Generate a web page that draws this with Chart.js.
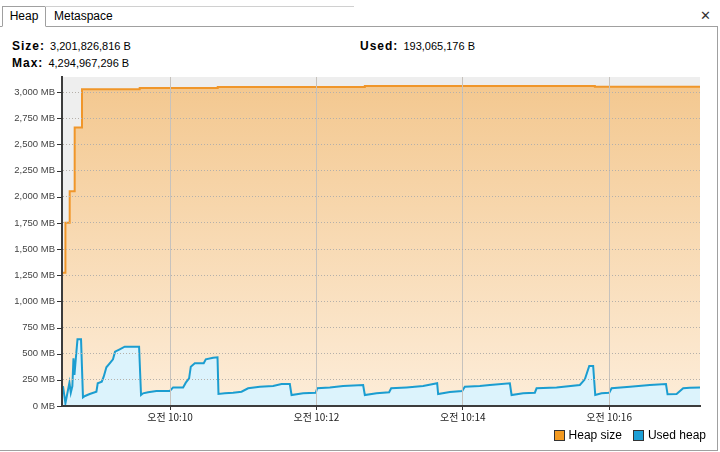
<!DOCTYPE html>
<html>
<head>
<meta charset="utf-8">
<script src="https://cdn.jsdelivr.net/npm/chart.js@4/dist/chart.umd.min.js"></script>
<style>
  body { margin: 0; width: 720px; height: 452px; background: #fff; font-family: "Liberation Sans", Arial, sans-serif; position: relative; overflow: hidden; }
  .tabs { position: absolute; left: 0; top: 6px; width: 718px; height: 20px; border-bottom: 1px solid #a0a0a0; }
  .tab { position: absolute; top: 0; height: 19px; line-height: 19px; font-size: 12px; color: #000; }
  .tab.sel { left: 2px; width: 42px; border: 1px solid #a0a0a0; border-bottom: 1px solid #fff; background: #fff; text-align: center; }
  .tab.other { left: 45px; width: 300px; padding-left: 9px; border-top: 1px solid #d0d0d0; }
  .close { position: absolute; right: 7px; top: 0; font-size: 13px; line-height: 19px; color: #333; }
  .panel { position: absolute; left: 0; top: 26px; width: 717px; height: 424px; border-right: 1px solid #a0a0a0; border-bottom: 1px solid #a0a0a0; }
  .info { position: absolute; font-size: 11px; color: #000; }
  .info b { font-size: 12px; letter-spacing: 1px; margin-right: 2px; }
  #wrap { position: absolute; left: 0; top: 70px; width: 716px; height: 360px; }
  .legend { position: absolute; top: 428px; right: 14px; font-size: 12px; color: #000; display: flex; align-items: center; }
  .legend span.box { display: inline-block; width: 9px; height: 9px; border: 1px solid #333; margin-right: 4px; }
  .legend span.lbl { margin-right: 11px; }
</style>
</head>
<body>
<div class="tabs">
  <div class="tab sel">Heap</div>
  <div class="tab other">Metaspace</div>
  <div class="close">✕</div>
</div>
<div class="panel"></div>
<div class="info" style="left:12px; top:39px;"><b>Size:</b> 3,201,826,816 B</div>
<div class="info" style="left:12px; top:56px;"><b>Max:</b> 4,294,967,296 B</div>
<div class="info" style="left:360px; top:39px;"><b>Used:</b> 193,065,176 B</div>
<div id="wrap"><canvas id="heapChart"></canvas></div>
<div class="legend">
  <span class="box" style="background:#f39a21"></span><span class="lbl">Heap size</span>
  <span class="box" style="background:#1c9fd6"></span><span class="lbl" style="margin-right:0">Used heap</span>
</div>

<script>
// time = seconds after 10:00:00, values in MB
const heapTimes = [511.4, 514.2, 517.7, 521.8, 527.8, 575.1, 639.1, 759.7, 948.3, 1034.5]
const heapValues = [1274, 1751, 2054, 2663, 3028, 3040, 3050, 3058, 3052, 3052]

const usedTimes = [
  512.2, 514.2, 517.5, 518.6, 519.9, 520.8, 521.6, 522.7, 524.1, 527.0,
  528.6, 530.3, 534.1, 539.6, 540.7, 544.0, 545.6, 547.8, 550.5, 553.2,
  554.9, 558.7, 562.8, 574.6, 576.2, 577.9, 582.0, 588.8, 599.8, 602.5,
  610.7, 612.9, 615.6, 617.0, 620.3, 627.6, 629.3, 635.3, 638.9, 639.7,
  644.9, 651.7, 658.6, 664.0, 673.6, 684.5, 691.4, 698.2, 699.6, 709.1,
  719.5, 720.6, 731.0, 741.9, 758.3, 759.7, 769.3, 779.6, 781.3, 793.9,
  807.5, 819.0, 819.8, 829.4, 839.5, 841.7, 854.0, 862.2, 878.6, 880.0,
  889.5, 899.1, 900.5, 916.9, 936.0, 940.1, 943.7, 946.9, 948.6, 953.8,
  960.1, 962.0, 977.1, 993.4, 1006.6, 1007.9, 1015.3, 1020.7, 1026.2, 1034.5
]
const usedValues = [
  191, 26, 223, 127, 191, 456, 296, 449, 637, 637,
  83, 96, 115, 137, 217, 232, 280, 370, 408, 446,
  519, 542, 567, 567, 105, 121, 131, 143, 143, 178,
  178, 223, 264, 376, 408, 408, 446, 462, 465, 115,
  121, 127, 137, 169, 184, 191, 210, 210, 105, 121,
  127, 169, 178, 191, 201, 105, 121, 131, 169, 178,
  191, 217, 115, 134, 143, 184, 191, 201, 217, 105,
  121, 127, 169, 178, 201, 255, 382, 382, 105, 121,
  127, 169, 184, 201, 210, 112, 115, 169, 175, 178
]

const xTickValues = [600, 720, 840, 960]
const xTickLabels = ['오전 10:10', '오전 10:12', '오전 10:14', '오전 10:16']
const yTickValues = [0, 250, 500, 750, 1000, 1250, 1500, 1750, 2000, 2250, 2500, 2750, 3000]

const toPoints = (xs, ys) => xs.map((x, i) => ({ x: x, y: ys[i] }))

// grey plot background + little tick marks on the y axis
const plotBg = {
    id: 'plotBg',
    beforeDraw(chart) {
        const { ctx, chartArea: a } = chart
        ctx.save()
        ctx.fillStyle = '#eeeeee'
        ctx.fillRect(a.left, a.top, a.right - a.left, a.bottom - a.top)
        ctx.restore()
    },
    afterDraw(chart) {
        const { ctx } = chart
        const y = chart.scales.y
        ctx.save()
        ctx.strokeStyle = '#333'
        ctx.lineWidth = 1
        yTickValues.forEach(v => {
            const py = Math.round(y.getPixelForValue(v)) + 0.5
            ctx.beginPath()
            ctx.moveTo(y.right - 5, py)
            ctx.lineTo(y.right, py)
            ctx.stroke()
        })
        ctx.restore()
    }
}

function orangeFill(context) {
    const { ctx, chartArea } = context.chart
    if (!chartArea) return 'rgba(245,200,145,1)'
    const g = ctx.createLinearGradient(0, chartArea.top, 0, chartArea.bottom)
    g.addColorStop(0, 'rgb(243,199,142)')
    g.addColorStop(1, 'rgb(253,237,217)')
    return g
}

const ctx = document.getElementById('heapChart').getContext('2d')
const heapChart = new Chart(ctx, {
    type: 'line',
    data: {
        datasets: [{
            label: 'Used heap',
            data: toPoints(usedTimes, usedValues),
            borderColor: '#1b9dd0',
            backgroundColor: '#dcf3fc',
            borderWidth: 2,
            fill: 'origin',
            pointRadius: 0,
            tension: 0
        }, {
            label: 'Heap size',
            data: toPoints(heapTimes, heapValues),
            borderColor: '#f0962a',
            backgroundColor: orangeFill,
            borderWidth: 2,
            fill: 'origin',
            stepped: 'before',
            pointRadius: 0
        }]
    },
    options: {
        responsive: true,
        maintainAspectRatio: false,
        animation: false,
        layout: { padding: { top: 7, right: 16, bottom: 0, left: 0 } },
        plugins: {
            legend: { display: false },
            tooltip: { enabled: false }
        },
        scales: {
            x: {
                type: 'linear',
                min: 511.4,
                max: 1034.5,
                afterBuildTicks: scale => { scale.ticks = xTickValues.map(v => ({ value: v })) },
                afterFit: scale => { scale.height = 24; scale.paddingLeft = 0; scale.paddingRight = 0 },
                grid: { z: 1, color: '#c6c2bd', lineWidth: 1, drawTicks: true, tickLength: 4, tickColor: '#333', tickWidth: 1 },
                border: { z: 2, display: true, color: '#3c3c3c', width: 2 },
                ticks: {
                    padding: 1,
                    maxRotation: 0,
                    color: '#222',
                    font: { family: '"Noto Sans CJK KR", "Liberation Sans", sans-serif', size: 10 },
                    callback: (v, i) => xTickLabels[i]
                }
            },
            y: {
                min: 0,
                max: 3145,
                afterBuildTicks: scale => { scale.ticks = yTickValues.map(v => ({ value: v })) },
                afterFit: scale => { scale.width = 62; scale.paddingTop = 0; scale.paddingBottom = 0 },
                grid: { z: 1, color: '#b5b0aa', lineWidth: 1, drawTicks: false },
                border: { z: 2, display: true, color: '#3c3c3c', width: 2, dash: [1, 2] },
                ticks: {
                    padding: 7,
                    color: '#444',
                    font: { family: '"Liberation Sans", sans-serif', size: 9.5 },
                    callback: v => v.toLocaleString('en-US') + ' MB'
                }
            }
        }
    },
    plugins: [plotBg]
})
</script>
</body>
</html>
